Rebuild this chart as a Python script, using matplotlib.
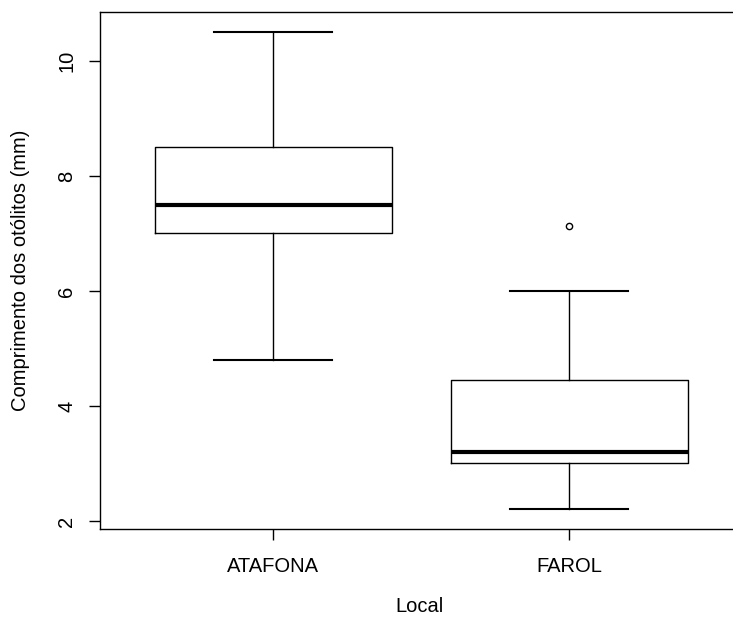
import matplotlib
matplotlib.use("Agg")
import matplotlib.pyplot as plt

plt.rcParams['font.family'] = ['Liberation Sans', 'DejaVu Sans']

# Data
categories = ["ATAFONA", "FAROL"]
whisker_low = [4.8, 2.2]
q1 = [7.0, 3.0]
medians = [7.5, 3.2]
q3 = [8.5, 4.45]
whisker_high = [10.5, 6.0]
outliers = [[], [7.13]]
y_ticks = [2, 4, 6, 8, 10]

W, H = 733, 619
fig = plt.figure(figsize=(W / 100, H / 100), dpi=100)
left, right, bottom, top = 100, 741, 529, 12
ax = fig.add_axes([left / W, (H - bottom) / H, (right - left) / W, (bottom - top) / H])

stats = []
for i, name in enumerate(categories):
    stats.append(dict(label=name, med=medians[i], q1=q1[i], q3=q3[i],
                      whislo=whisker_low[i], whishi=whisker_high[i],
                      fliers=outliers[i]))

ax.bxp(stats, positions=[1, 2], widths=0.8, capwidths=0.4,
       boxprops=dict(color='black', linewidth=1.0),
       medianprops=dict(color='black', linewidth=3.0, solid_capstyle='butt'),
       whiskerprops=dict(color='black', linewidth=1.0),
       capprops=dict(color='black', linewidth=1.5),
       flierprops=dict(marker='o', markersize=4.5, markerfacecolor='white',
                       markeredgecolor='black', markeredgewidth=1.0))

ax.set_xlim(0.415, 2.58)
ax.set_ylim(1.86, 10.85)
ax.set_yticks(y_ticks)
ax.set_yticklabels([str(t) for t in y_ticks], rotation=90, va='center')
ax.set_xticks([1, 2])
ax.set_xticklabels(categories)

ax.tick_params(axis='both', length=8, width=1, color='black', labelsize=14.5)
ax.tick_params(axis='x', pad=12)
ax.tick_params(axis='y', pad=9)

for s in ax.spines.values():
    s.set_linewidth(1.0)
    s.set_color('black')

ax.set_xlabel("Local", fontsize=14.5)
ax.set_ylabel("Comprimento dos otólitos (mm)", fontsize=14.5)
ax.xaxis.set_label_coords((420 - left) / (right - left), -(607 - bottom) / (bottom - top))
ax.xaxis.label.set_va('center')
ax.yaxis.set_label_coords((20 - left) / (right - left), 0.5)
ax.yaxis.label.set_va('center')

fig.savefig("out.png", dpi=100)
